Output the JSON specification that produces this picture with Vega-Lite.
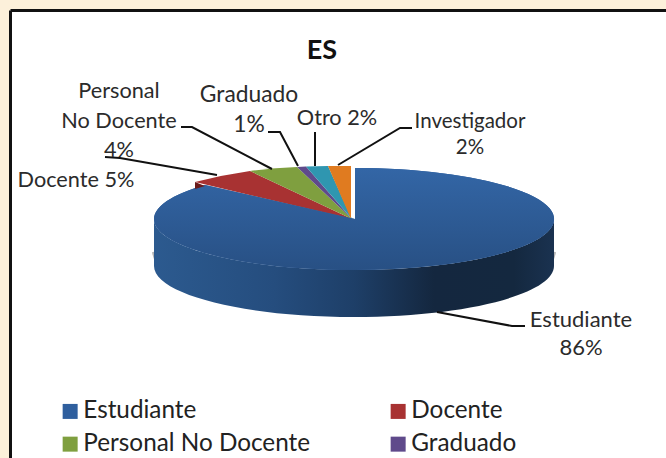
{"$schema":"https://vega.github.io/schema/vega-lite/v6.json","width":656,"height":448,"padding":{"left":10,"top":10,"right":0,"bottom":0},"autosize":{"type":"none"},"background":"#fcf0da","view":{"fill":"white","stroke":null},"config":{"font":"Lato","axis":{"domainColor":"#111111","domainWidth":3,"ticks":false,"labels":false,"grid":false,"title":null}},"title":{"text":"ES","font":"Lato","fontSize":27,"fontWeight":"bold","color":"#111111","anchor":"middle","dx":-16,"offset":-55},"data":{"values":[{"slice":"Estudiante","pct":86,"label":["Estudiante","86%"]},{"slice":"Docente","pct":5,"label":["Docente 5%"]},{"slice":"Personal No Docente","pct":4,"label":["Personal","No Docente","4%"]},{"slice":"Graduado","pct":1,"label":["Graduado","1%"]},{"slice":"Otro","pct":2,"label":["Otro 2%"]},{"slice":"Investigador","pct":2,"label":["Investigador","2%"]}]},"encoding":{"x":{"datum":0,"type":"quantitative","scale":{"domain":[-344,312]},"axis":{"orient":"top"}},"y":{"datum":0,"type":"quantitative","scale":{"domain":[239,-209]},"axis":{"orient":"left"}}},"layer":[{"transform":[{"filter":"datum.slice==='Estudiante'"}],"mark":{"type":"point","filled":false,"fill":null,"opacity":1,"size":4,"stroke":"#b5b5b5","strokeWidth":2,"shape":"M-201,33Q-198,50,-180,60M201,33Q198,50,180,60"}},{"transform":[{"filter":"datum.slice==='Estudiante'"}],"mark":{"type":"point","filled":true,"opacity":1,"size":4,"shape":"M200,0A200,51,0,0,1,-200,0L-200,47A200,51,0,0,0,200,47Z","fill":{"gradient":"linear","x1":0,"y1":0,"x2":1,"y2":0,"stops":[{"offset":0,"color":"#2c5a8f"},{"offset":0.3,"color":"#254d7e"},{"offset":0.5,"color":"#1e3f68"},{"offset":0.7,"color":"#14273f"},{"offset":0.9,"color":"#14283f"},{"offset":1,"color":"#1a3250"}]}}},{"mark":{"type":"point","filled":true,"opacity":1,"size":4,"strokeWidth":0},"encoding":{"color":{"field":"slice","type":"nominal","scale":{"domain":["Estudiante","Docente","Personal No Docente","Graduado","Otro","Investigador"],"range":["#2f5f9e","#a83232","#7f9f3f","#5f4a8b","#2f96b0","#e07b20"]},"legend":{"title":null,"orient":"none","direction":"horizontal","values":["Estudiante","Docente","Personal No Docente","Graduado"],"legendX":48,"legendY":389,"columns":2,"columnPadding":75,"rowPadding":8,"symbolType":"square","symbolSize":225,"symbolStrokeWidth":0,"labelFont":"Lato","labelFontSize":24.3,"labelColor":"#222222","labelOffset":1,"labelLimit":300,"symbolOpacity":1}},"shape":{"field":"slice","type":"nominal","legend":null,"scale":{"domain":["Estudiante","Docente","Personal No Docente","Graduado","Otro","Investigador"],"range":["M1,0L1,-51A200,51,0,1,1,-149,-34Z","M-2,0L-159,-37Q-132,-44,-104,-48Z","M-2,0L-104,-48Q-80,-51,-57,-52Z","M-2,0L-57,-52L-48,-52.5Z","M-2,0L-48,-52.5L-26,-53Z","M-3,0L-26,-53L-3,-53Z"]}}}},{"transform":[{"filter":"datum.slice==='Estudiante'"}],"mark":{"type":"point","filled":true,"opacity":1,"size":4,"shape":"M1,0L1,-51A200,51,0,1,1,-149,-34Z","fill":{"gradient":"linear","x1":0,"y1":0,"x2":0,"y2":1,"stops":[{"offset":0,"color":"#3366a6"},{"offset":1,"color":"#285084"}]}}},{"transform":[{"filter":"datum.slice==='Docente'"}],"mark":{"type":"point","filled":true,"opacity":1,"size":4,"shape":"M-159,-37L-159,-30L-149,-33Z","fill":"#6a1a1a"}},{"mark":{"type":"point","filled":false,"fill":null,"opacity":1,"size":4,"stroke":"#111111","strokeWidth":2},"encoding":{"shape":{"field":"slice","type":"nominal","legend":null,"scale":{"domain":["Estudiante","Docente","Personal No Docente","Graduado","Otro","Investigador"],"range":["M171,107L158,107L83,93","M-249,-62L-234,-61L-137,-44","M-173,-92L-162,-92L-82,-50","M-86,-87L-74,-87L-56,-53","M-39,-87L-39,-53","M58,-91L46,-91L-16,-54"]}}}},{"transform":[{"filter":"datum.slice==='Estudiante'"}],"mark":{"type":"text","font":"Lato","fontSize":22,"color":"#2b2b2b","align":"center","baseline":"alphabetic","lineHeight":28},"encoding":{"text":{"field":"label"},"x":{"datum":227,"type":"quantitative"},"y":{"datum":108,"type":"quantitative"}}},{"transform":[{"filter":"datum.slice==='Docente'"}],"mark":{"type":"text","font":"Lato","fontSize":21.7,"color":"#2b2b2b","align":"center","baseline":"alphabetic"},"encoding":{"text":{"field":"label"},"x":{"datum":-278,"type":"quantitative"},"y":{"datum":-32,"type":"quantitative"}}},{"transform":[{"filter":"datum.slice==='Personal No Docente'"}],"mark":{"type":"text","font":"Lato","fontSize":21.7,"color":"#2b2b2b","align":"center","baseline":"alphabetic","lineHeight":29.5},"encoding":{"text":{"field":"label"},"x":{"datum":-235,"type":"quantitative"},"y":{"datum":-121,"type":"quantitative"}}},{"transform":[{"filter":"datum.slice==='Graduado'"}],"mark":{"type":"text","font":"Lato","fontSize":22.8,"color":"#2b2b2b","align":"center","baseline":"alphabetic","lineHeight":30},"encoding":{"text":{"field":"label"},"x":{"datum":-105,"type":"quantitative"},"y":{"datum":-117,"type":"quantitative"}}},{"transform":[{"filter":"datum.slice==='Otro'"}],"mark":{"type":"text","font":"Lato","fontSize":21.7,"color":"#2b2b2b","align":"center","baseline":"alphabetic"},"encoding":{"text":{"field":"label"},"x":{"datum":-17,"type":"quantitative"},"y":{"datum":-94,"type":"quantitative"}}},{"transform":[{"filter":"datum.slice==='Investigador'"}],"mark":{"type":"text","font":"Lato","fontSize":20.5,"color":"#2b2b2b","align":"center","baseline":"alphabetic","lineHeight":26},"encoding":{"text":{"field":"label"},"x":{"datum":116,"type":"quantitative"},"y":{"datum":-91,"type":"quantitative"}}}],"resolve":{"scale":{"shape":"independent"}}}
